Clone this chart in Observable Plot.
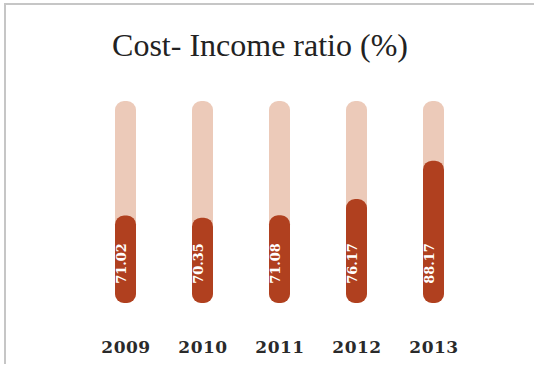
<!DOCTYPE html>
<html><head><meta charset="utf-8">
<script src="https://cdn.jsdelivr.net/npm/d3@7"></script>
<script src="https://cdn.jsdelivr.net/npm/@observablehq/plot@0.6"></script>
<style>
body{margin:0;background:#fff;}
#wrap{position:relative;width:534px;height:365px;overflow:hidden;background:#fff;}
#frame{position:absolute;left:4px;top:3px;right:0;bottom:1px;border-top:2px solid #c6c6c6;border-left:2px solid #c6c6c6;}
#title{position:absolute;left:0;width:520px;top:29px;text-align:center;font-family:"Liberation Serif",serif;font-size:32px;line-height:32px;color:#222;}
#chart{position:absolute;left:0;top:0;}
#chart svg, #chart svg text{font-family:"DejaVu Serif","Liberation Serif",serif !important;}
#chart g[aria-label="x-axis tick label"] text{letter-spacing:0.5px;}
</style></head>
<body>
<div id="wrap">
  <div id="frame"></div>
  <div id="title">Cost- Income ratio (%)</div>
  <div id="chart"></div>
</div>
<script>
const years = ["2009", "2010", "2011", "2012", "2013"];
const ratios = [71.02, 70.35, 71.08, 76.17, 88.17];
const yMin = 43.7;
const yMax = 106.8;

const data = years.map((year, i) => ({year, ratio: ratios[i]}));
const light = "#eccab9";
const dark = "#b0401f";

const chart = Plot.plot({
  width: 534,
  height: 365,
  marginTop: 101,
  marginBottom: 62,
  marginLeft: 86.5,
  marginRight: 62.5,
  style: {background: "transparent"},
  x: {domain: years, padding: 0},
  y: {domain: [yMin, yMax], axis: null},
  marks: [
    Plot.barY(data, {x: "year", y1: () => yMin, y2: () => yMax, fill: light, insetLeft: 28, insetRight: 28, rx: 9}),
    Plot.barY(data, {x: "year", y1: () => yMin, y2: "ratio", fill: dark, insetLeft: 28, insetRight: 28, rx: 9}),
    Plot.text(data, {x: "year", text: d => d.ratio.toFixed(2), frameAnchor: "bottom", dy: -40, rotate: -90, fill: "white", fontWeight: "bold", fontSize: 13}),
    Plot.axisX({tickSize: 0, tickPadding: 37, fontSize: 17, fontWeight: "bold", fill: "#2a2a2a", label: null})
  ]
});
document.getElementById("chart").appendChild(chart);
</script>
</body></html>
